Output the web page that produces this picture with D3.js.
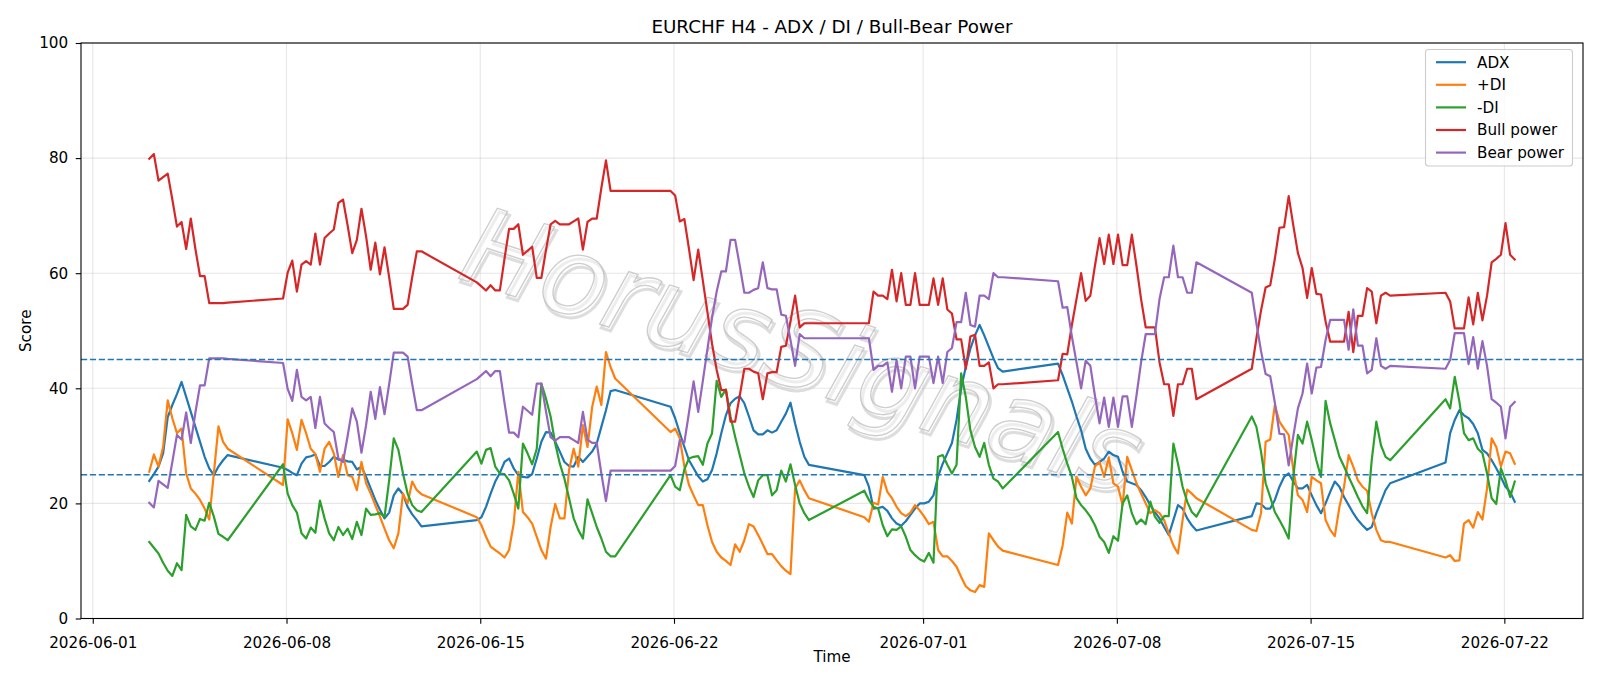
<!DOCTYPE html>
<html><head><meta charset="utf-8">
<script src="https://cdn.jsdelivr.net/npm/d3@7"></script>
<style>body{margin:0;background:#fff}svg{display:block;font-family:"DejaVu Sans",sans-serif}</style>
</head><body><svg id="c" width="1600" height="686"></svg>
<script>
// trading sessions: [first H4 bar (UTC), number of bars]
const sessions = [["2026-06-03T01:00Z",18],["2026-06-07T21:00Z",31],["2026-06-14T21:00Z",31],["2026-06-21T21:00Z",31],["2026-06-28T21:00Z",31],["2026-07-05T21:00Z",31],["2026-07-12T21:00Z",31],["2026-07-19T21:00Z",16]];
const xTickLabels = ["2026-06-01","2026-06-08","2026-06-15","2026-06-22","2026-07-01","2026-07-08","2026-07-15","2026-07-22"];
const yTicks = [0,20,40,60,80,100];
const thresholds = [25,45];
const seriesNames = ["ADX","+DI","-DI","Bull power","Bear power"];

const adx = [23.9,25.1,26.4,28.7,35.0,37.1,39.0,41.1,38.5,35.9,33.3,30.7,28.1,26.1,24.9,26.4,27.5,28.4,
26.2,25.8,25.3,24.9,26.9,28.0,28.2,28.5,26.5,26.5,27.2,28.1,27.6,27.6,27.3,27.2,25.9,26.4,24.6,22.6,20.6,18.9,17.4,18.4,21.4,22.6,21.6,19.4,18.1,17.1,16.0,
17.1,17.6,19.4,21.7,23.8,25.3,27.2,27.8,26.1,24.9,24.6,24.5,25.1,27.8,30.7,32.4,32.3,30.7,29.0,27.2,26.5,26.4,28.1,27.2,28.1,29.0,30.4,33.3,36.2,39.5,39.7,
36.8,34.8,32.2,29.8,27.5,26.1,24.7,23.8,24.2,25.8,28.7,32.2,35.3,37.4,38.2,38.6,37.4,35.1,32.7,32.0,32.0,32.7,32.3,32.7,34.2,35.6,37.5,33.9,30.7,28.1,26.7,
24.9,22.9,19.1,19.2,19.4,18.7,17.4,16.5,16.1,16.9,18.0,19.1,20.0,20.0,20.3,21.4,24.7,26.9,28.7,30.5,34.5,40.0,43.7,46.9,49.2,51.0,49.2,47.2,45.2,43.5,42.9,
44.3,42.3,40.0,37.7,35.1,32.7,29.5,27.8,26.7,27.2,27.8,29.0,28.4,28.1,25.5,23.8,23.5,23.2,22.3,21.1,19.7,18.5,17.4,15.9,14.5,17.1,19.7,19.1,17.4,16.2,15.3,
17.8,20.0,19.9,19.1,19.1,20.6,22.9,24.6,25.2,23.8,22.6,22.6,23.2,21.4,19.7,18.3,20.0,22.0,23.8,22.9,21.1,19.7,18.3,17.1,16.2,15.4,15.9,18.3,20.3,22.3,23.5,
27.1,32.2,34.5,36.2,35.3,34.8,33.8,32.2,29.3,28.7,27.5,26.1,24.6,22.9,22.0,20.3];

const plusDI = [25.5,28.5,26.4,29.8,37.9,34.8,32.2,33.0,25.2,22.6,21.7,20.6,19.1,17.2,25.2,33.4,30.7,29.5,
23.2,34.6,32.2,29.3,34.5,32.2,29.5,28.6,25.5,29.5,30.7,28.7,24.6,28.4,24.9,24.6,22.3,27.2,23.5,21.7,19.7,17.7,15.6,13.6,12.2,14.8,21.7,20.0,23.8,22.3,21.6,
17.6,16.2,14.2,12.5,11.9,11.3,10.6,11.9,16.5,25.5,18.5,17.6,16.5,14.2,11.9,10.4,15.9,19.9,17.4,17.4,25.8,29.5,26.4,33.6,29.8,36.7,40.3,37.1,46.3,43.7,41.7,
32.4,33.0,31.3,26.4,23.2,21.4,19.7,19.7,16.2,13.3,11.6,10.6,10.0,9.3,12.9,11.6,13.6,16.4,16.0,14.5,12.9,11.2,11.2,10.1,9.1,8.3,7.7,22.6,24.0,22.3,20.9,
17.6,16.8,20.1,19.8,24.6,22.0,20.9,19.4,18.3,17.8,18.4,19.7,18.8,17.7,16.4,16.8,11.9,10.8,10.8,10.0,9.0,7.2,5.6,4.9,4.6,5.8,5.5,14.8,13.6,12.5,11.8,
9.3,12.7,18.4,16.5,24.6,22.9,21.4,22.6,26.4,27.2,24.6,28.0,23.5,22.9,19.7,28.1,25.8,23.5,21.7,20.0,18.3,18.8,18.3,17.1,14.8,12.7,11.3,17.1,22.4,21.7,20.9,
15.4,15.2,18.3,30.7,31.1,37.1,34.2,33.0,31.9,25.8,21.4,20.6,18.5,24.6,24.0,23.5,17.1,15.4,14.3,19.4,22.9,28.4,26.4,24.0,22.9,22.2,18.3,15.4,13.6,13.3,13.3,
10.6,11.0,10.0,10.1,16.5,17.1,15.8,18.5,17.2,22.6,31.3,29.8,26.4,29.0,28.7,26.9];

const minusDI = [13.3,12.3,11.3,9.7,8.3,7.4,9.6,8.4,18.0,16.0,15.4,17.3,17.0,20.1,17.7,14.7,14.2,13.6,
26.8,21.7,19.7,18.4,14.8,13.9,15.8,14.9,20.5,17.4,14.8,13.6,15.9,14.5,15.6,13.8,16.8,14.5,19.1,18.0,18.1,18.3,17.7,24.0,31.3,29.3,25.2,21.7,19.7,18.8,18.5,
29.0,26.9,29.3,29.6,26.4,25.2,25.1,24.0,21.7,19.1,30.4,28.7,26.8,29.5,40.8,38.2,35.1,30.4,26.9,24.3,20.9,17.4,15.4,13.9,20.7,18.3,15.9,13.9,11.6,10.8,10.8,
24.9,22.9,22.3,25.9,27.8,28.1,28.2,26.7,30.4,32.2,41.3,38.5,39.8,35.1,31.6,28.4,25.2,22.9,21.1,24.0,24.9,24.9,21.4,22.3,25.7,23.8,26.8,23.2,20.0,18.3,17.1,
22.2,20.6,19.4,19.1,16.2,14.3,15.5,15.4,16.0,14.2,11.9,11.0,10.3,9.9,11.4,9.7,28.1,28.4,26.7,25.2,26.7,42.6,38.5,32.7,29.8,28.1,30.5,26.7,24.3,23.8,22.6,
32.4,29.5,26.9,24.6,20.9,19.7,18.8,17.7,16.2,14.2,13.3,11.4,14.3,13.5,20.0,21.4,18.3,16.4,17.2,16.4,20.3,17.7,16.6,17.8,17.8,30.4,26.9,22.9,20.3,18.5,17.7,
35.1,33.3,29.0,23.5,21.1,18.5,17.1,15.6,13.9,24.6,31.9,30.4,34.2,31.0,27.5,24.6,37.8,33.9,31.0,28.1,26.4,24.6,22.9,21.1,19.5,18.3,27.5,34.2,30.1,28.1,27.5,
38.1,36.5,42.0,37.7,32.2,31.0,31.3,29.5,28.7,25.2,20.9,19.9,26.1,24.0,21.1,23.8];

const bullPower = [79.9,80.7,76.1,76.7,77.3,72.8,68.1,68.9,64.2,69.5,64.2,59.5,59.5,54.8,54.8,54.8,54.8,54.9,
55.6,60.1,62.2,56.8,61.5,62.1,61.5,66.9,61.5,66.1,66.9,67.6,72.2,72.8,68.3,63.5,65.8,71.2,66.4,60.6,65.3,59.8,64.5,59.3,53.8,53.8,53.8,54.5,59.3,63.8,63.8,
58.4,57.7,57.0,57.9,57.0,57.0,62.5,67.7,67.7,68.5,63.2,63.9,64.6,59.2,59.2,64.0,68.5,69.1,68.5,68.5,68.5,69.0,69.5,64.1,68.9,69.5,69.5,74.8,79.6,74.3,74.3,
74.3,73.5,69.0,69.4,64.2,58.8,64.1,58.7,53.2,47.7,43.2,39.7,39.7,34.2,34.2,38.7,43.4,43.4,42.9,42.6,38.1,42.6,42.8,42.8,47.2,47.4,51.6,56.1,50.6,51.3,51.3,
51.3,51.3,56.8,56.1,56.1,55.5,60.6,55.1,60.0,54.5,54.5,60.0,54.5,54.5,54.5,59.1,54.5,59.1,53.7,53.0,48.5,48.5,43.4,49.0,49.3,43.9,43.9,44.5,40.0,40.7,40.7,
41.4,46.0,45.9,51.0,55.5,60.0,55.2,56.1,61.3,66.1,61.6,66.7,61.6,66.7,61.4,61.4,66.7,61.3,55.5,50.6,50.6,50.6,44.5,40.7,40.7,35.2,40.7,40.7,43.4,43.4,38.1,
43.4,48.7,53.5,57.5,57.9,62.5,67.9,68.0,73.4,68.3,63.5,60.9,55.7,60.9,56.4,56.3,51.6,48.1,48.1,48.1,48.1,53.3,46.3,52.6,52.6,57.4,56.8,51.3,56.1,56.6,56.1,
56.6,55.1,50.4,50.4,50.4,55.8,51.1,56.6,51.8,56.1,61.9,62.5,63.2,68.7,63.2,62.4];

const bearPower = [20.1,19.3,23.9,23.3,22.7,27.2,31.9,31.1,35.8,30.5,35.8,40.5,40.5,45.2,45.2,45.2,45.2,45.1,
44.4,39.9,37.8,43.2,38.5,37.9,38.5,33.1,38.5,33.9,33.1,32.4,27.8,27.2,31.7,36.5,34.2,28.8,33.6,39.4,34.7,40.2,35.5,40.7,46.2,46.2,46.2,45.5,40.7,36.2,36.2,
41.6,42.3,43.0,42.1,43.0,43.0,37.5,32.3,32.3,31.5,36.8,36.1,35.4,40.8,40.8,36.0,31.5,30.9,31.5,31.5,31.5,31.0,30.5,35.9,31.1,30.5,30.5,25.2,20.4,25.7,25.7,
25.7,26.5,31.0,30.6,35.8,41.2,35.9,41.3,46.8,52.3,56.8,60.3,60.3,65.8,65.8,61.3,56.6,56.6,57.1,57.4,61.9,57.4,57.2,57.2,52.8,52.6,48.4,43.9,49.4,48.7,48.7,
48.7,48.7,43.2,43.9,43.9,44.5,39.4,44.9,40.0,45.5,45.5,40.0,45.5,45.5,45.5,40.9,45.5,40.9,46.3,47.0,51.5,51.5,56.6,51.0,50.7,56.1,56.1,55.5,60.0,59.3,59.3,
58.6,54.0,54.1,49.0,44.5,40.0,44.8,43.9,38.7,33.9,38.4,33.3,38.4,33.3,38.6,38.6,33.3,38.7,44.5,49.4,49.4,49.4,55.5,59.3,59.3,64.8,59.3,59.3,56.6,56.6,61.9,
56.6,51.3,46.5,42.5,42.1,37.5,32.1,32.0,26.6,31.7,36.5,39.1,44.3,39.1,43.6,43.7,48.4,51.9,51.9,51.9,51.9,46.7,53.7,47.4,47.4,42.6,43.2,48.7,43.9,43.4,43.9,
43.4,44.9,49.6,49.6,49.6,44.2,48.9,43.4,48.2,43.9,38.1,37.5,36.8,31.3,36.8,37.6];

const colors = ["#1f77b4","#ff7f0e","#2ca02c","#d62728","#9467bd"];
const series = [adx, plusDI, minusDI, bullPower, bearPower];

const times = sessions.flatMap(([s, n]) => d3.range(n).map(i => new Date(Date.parse(s) + i * 4 * 3600e3)));

const W = 1600, H = 686;
const L = 81, R = 1583, T = 43, B = 618.5;
const svg = d3.select("#c");
svg.append("rect").attr("width", W).attr("height", H).attr("fill", "#fff");

const [t0, t1] = d3.extent(times);
const padT = (t1 - t0) * 0.05;
const x = d3.scaleUtc().domain([new Date(+t0 - padT), new Date(+t1 + padT)]).range([L, R]);
const y = d3.scaleLinear().domain([0, 100]).range([B, T]);
const parseDay = d3.utcParse("%Y-%m-%d");
const xTicks = xTickLabels.map(parseDay);

// grid
const grid = svg.append("g").attr("stroke", "#b0b0b0").attr("stroke-opacity", 0.3).attr("stroke-width", 1.1);
grid.selectAll("line.gx").data(xTicks).join("line").attr("x1", d => x(d)).attr("x2", d => x(d)).attr("y1", T).attr("y2", B);
grid.selectAll("line.gy").data(yTicks).join("line").attr("y1", d => y(d)).attr("y2", d => y(d)).attr("x1", L).attr("x2", R);

// watermark
const wm = svg.append("g").attr("transform", "translate(800,358) rotate(18)")
  .attr("font-size", 108).attr("font-style", "italic").attr("text-anchor", "middle").attr("dominant-baseline", "middle");
wm.append("text").attr("x", 3).attr("y", 3).text("HorusSignals").attr("fill", "none").attr("stroke", "#cccccc").attr("stroke-width", 3).attr("opacity", 0.65);
wm.append("text").text("HorusSignals").attr("fill", "#ffffff").attr("fill-opacity", 0.6).attr("stroke", "#c2c2c2").attr("stroke-width", 1.3).attr("opacity", 0.8);

// series
const line = d3.line().x((d, i) => x(times[i])).y(d => y(d));
svg.append("clipPath").attr("id", "pc").append("rect").attr("x", L).attr("y", T).attr("width", R - L).attr("height", B - T);
const plot = svg.append("g").attr("clip-path", "url(#pc)");
series.forEach((s, k) => {
  plot.append("path").datum(s).attr("d", line).attr("fill", "none").attr("stroke", colors[k])
    .attr("stroke-width", 2.2).attr("stroke-linejoin", "round").attr("stroke-linecap", "square");
});
// thresholds
plot.selectAll("line.th").data(thresholds).join("line").attr("x1", L).attr("x2", R)
  .attr("y1", d => y(d)).attr("y2", d => y(d)).attr("stroke", "#1f77b4").attr("stroke-width", 1.5).attr("stroke-dasharray", "6.2,2.7");

// axes
const fs = 15.2;
const gx = svg.append("g").attr("transform", `translate(0,${B})`)
  .call(d3.axisBottom(x).tickValues(xTicks).tickFormat(d3.utcFormat("%Y-%m-%d")).tickSize(5.3).tickPadding(13).tickSizeOuter(0));
const gy = svg.append("g").attr("transform", `translate(${L},0)`)
  .call(d3.axisLeft(y).tickValues(yTicks).tickSize(5.3).tickPadding(7.5).tickSizeOuter(0));
[gx, gy].forEach(g => {
  g.attr("font-family", "DejaVu Sans").attr("font-size", fs);
  g.select(".domain").remove();
  g.selectAll(".tick line").attr("stroke", "#000").attr("stroke-width", 1.1);
  g.selectAll(".tick text").attr("fill", "#000");
});
svg.append("rect").attr("x", L).attr("y", T).attr("width", R - L).attr("height", B - T)
  .attr("fill", "none").attr("stroke", "#000").attr("stroke-width", 1.1);

// labels
svg.append("text").attr("x", (L + R) / 2).attr("y", 32.5).attr("text-anchor", "middle").attr("font-size", 18.3)
  .text("EURCHF H4 - ADX / DI / Bull-Bear Power");
svg.append("text").attr("x", (L + R) / 2).attr("y", 662).attr("text-anchor", "middle").attr("font-size", fs).text("Time");
svg.append("text").attr("transform", `translate(31,${(T + B) / 2}) rotate(-90)`).attr("text-anchor", "middle").attr("font-size", fs).text("Score");

// legend
const lg = svg.append("g");
lg.append("rect").attr("x", 1425.5).attr("y", 49.5).attr("width", 147).attr("height", 116.5).attr("rx", 3)
  .attr("fill", "#fff").attr("fill-opacity", 0.8).attr("stroke", "#cccccc").attr("stroke-width", 1.1);
seriesNames.forEach((n, k) => {
  const yy = 62.2 + k * 22.6;
  lg.append("line").attr("x1", 1436).attr("x2", 1466).attr("y1", yy).attr("y2", yy).attr("stroke", colors[k]).attr("stroke-width", 2.2);
  lg.append("text").attr("x", 1477).attr("y", yy).attr("dy", "0.36em").attr("font-size", fs).text(n);
});
</script></body></html>
